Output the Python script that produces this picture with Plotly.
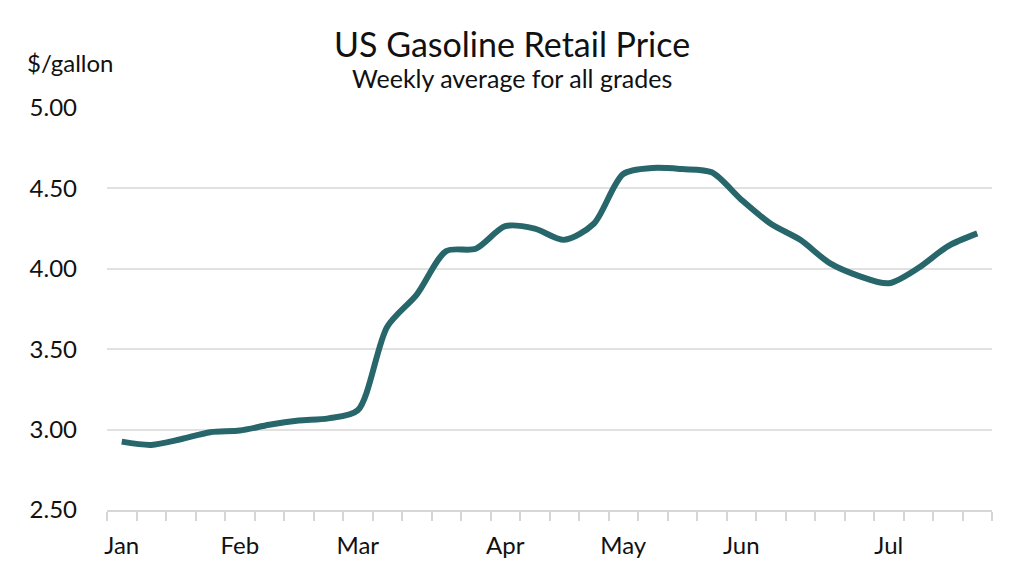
import plotly.graph_objects as go

# weekly average retail price, all grades ($/gallon), 30 weeks from early January
weeks = list(range(30))
price = [2.925, 2.905, 2.94, 2.984, 2.994, 3.03, 3.056, 3.07, 3.12, 3.64,
         3.84, 4.11, 4.125, 4.265, 4.25, 4.18, 4.28, 4.59, 4.627, 4.62,
         4.60, 4.43, 4.28, 4.18, 4.035, 3.955, 3.91, 4.005, 4.14, 4.22]

month_pos = [0, 4, 8, 13, 17, 21, 26]
month_labels = ["Jan", "Feb", "Mar", "Apr", "May", "Jun", "Jul"]

y_ticks = [2.5, 3.0, 3.5, 4.0, 4.5, 5.0]

FONT = "Lato"
INK = "#111111"
LINE_COLOR = "#27666a"
GRID = "#e1e1e1"
AXIS = "#d6d6d6"

fig = go.Figure()
fig.add_trace(go.Scatter(
    x=weeks, y=price, mode="lines",
    line=dict(color=LINE_COLOR, width=6, shape="spline", smoothing=0.8),
    hoverinfo="skip",
))

# page body has an 8px margin, so the figure is sized to fill the rest
fig.update_layout(
    width=1016, height=564,
    paper_bgcolor="white", plot_bgcolor="white",
    margin=dict(l=99, r=32, t=100, b=62),
    showlegend=False,
    font=dict(family=FONT, color=INK),
)

fig.update_xaxes(
    range=[-0.5, 29.5],
    tickmode="array", tickvals=month_pos, ticktext=month_labels,
    ticks="", ticklen=0,
    tickfont=dict(size=24, family=FONT, color=INK),
    showgrid=False, zeroline=False,
    showline=True, linecolor=AXIS, linewidth=2,
    minor=dict(tick0=-0.5, dtick=1, ticks="outside", ticklen=9,
               tickcolor=AXIS, tickwidth=2, showgrid=False),
    ticklabelstandoff=13,
)

fig.update_yaxes(
    range=[2.5, 5.0],
    tickmode="array", tickvals=y_ticks, ticktext=[f"{v:.2f}" for v in y_ticks],
    tickfont=dict(size=24, family=FONT, color=INK),
    showgrid=True, gridcolor=GRID, gridwidth=1.5,
    zeroline=False, showline=False, ticks="",
    ticklabelstandoff=29,
)

fig.add_annotation(
    text="US Gasoline Retail Price", xref="paper", yref="paper",
    x=0.4576, y=1.161, xanchor="center", yanchor="middle", showarrow=False,
    font=dict(size=34, family=FONT, color=INK),
)
fig.add_annotation(
    text="Weekly average for all grades", xref="paper", yref="paper",
    x=0.4576, y=1.074, xanchor="center", yanchor="middle", showarrow=False,
    font=dict(size=25, family=FONT, color=INK),
)
fig.add_annotation(
    text="$/gallon", xref="paper", yref="paper", x=-0.0927, y=1.114,
    xanchor="left", yanchor="middle", showarrow=False,
    font=dict(size=24, family=FONT, color=INK),
)

fig.write_html("out.html")
